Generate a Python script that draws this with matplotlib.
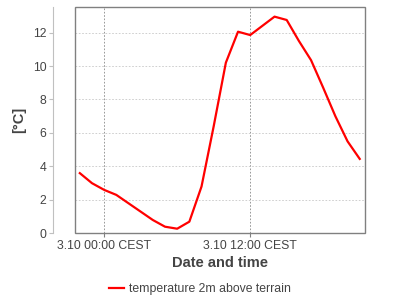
import matplotlib
matplotlib.use('Agg')
import matplotlib.pyplot as plt
import matplotlib.dates as mdates
import matplotlib.patches as mpatches
from datetime import datetime, timedelta

#=====================================================

start_time = datetime(2025, 3, 9, 22, 0)
hours = list(range(24))
temperature = [3.6, 3.0, 2.6, 2.3, 1.8, 1.3, 0.8, 0.4, 0.28, 0.7, 2.8, 6.4,
               10.2, 12.05, 11.85, 12.4, 12.95, 12.75, 11.5, 10.35, 8.7, 7.0, 5.5, 4.45]
series_label = 'temperature 2m above terrain'
y_ticks = [0, 2, 4, 6, 8, 10, 12]

#=====================================================

def main():

    times = [start_time + timedelta(hours=h) for h in hours]

    plt.rcParams['font.family'] = ['Liberation Sans', 'DejaVu Sans']
    text_color = '#444444'

    fig = plt.figure(figsize=(4, 3), dpi=100)
    ax = fig.add_axes([0.188, 0.222, 0.725, 0.756])

    ax.plot(times, temperature, color='#ff0000', lw=1.6, label=series_label)

    ax.set_xlim(start_time - timedelta(hours=0.38), start_time + timedelta(hours=23.45))
    ax.set_ylim(0, 13.55)
    ax.set_yticks(y_ticks)

    ax.xaxis.set_major_locator(mdates.HourLocator(byhour=[0, 12]))
    ax.xaxis.set_major_formatter(
        plt.FuncFormatter(lambda v, p: (lambda d: f"{d.month}.{d.day} {d:%H:%M} CEST")(mdates.num2date(v))))

    # grid
    ax.yaxis.grid(True, linestyle=(0, (2, 2)), color='#c8c8c8', lw=0.6)
    ax.xaxis.grid(True, linestyle=(0, (2, 2)), color='#888888', lw=0.6)

    # frame and detached y axis
    for s in ['top', 'right', 'bottom']:
        ax.spines[s].set_visible(False)
    ax.spines['left'].set_position(('outward', 15.8))
    ax.spines['left'].set_color('#c0c0c0')
    ax.add_patch(mpatches.Rectangle((0, 0), 1, 1, transform=ax.transAxes, fill=False,
                                    edgecolor='#808080', lw=1.0, clip_on=False, zorder=5))

    ax.tick_params(axis='y', colors='#c0c0c0', labelcolor=text_color, length=3, width=0.8,
                   labelsize=8.8, pad=2)
    ax.tick_params(axis='x', colors='#808080', labelcolor=text_color, length=3, width=0.8,
                   labelsize=8.8, pad=1.5)

    ax.set_xlabel('Date and time', fontsize=10.5, fontweight='bold', color=text_color, labelpad=3)
    ax.set_ylabel('[°C]', fontsize=10.5, fontweight='bold', color=text_color, labelpad=5)

    fig.legend(loc='center', bbox_to_anchor=(0.5, 0.037), frameon=False, fontsize=8.8,
               handlelength=1.2, handletextpad=0.4, labelcolor=text_color)

    fig.savefig('out.png', dpi=100)

#=====================================================

if __name__ == '__main__':
    main()
